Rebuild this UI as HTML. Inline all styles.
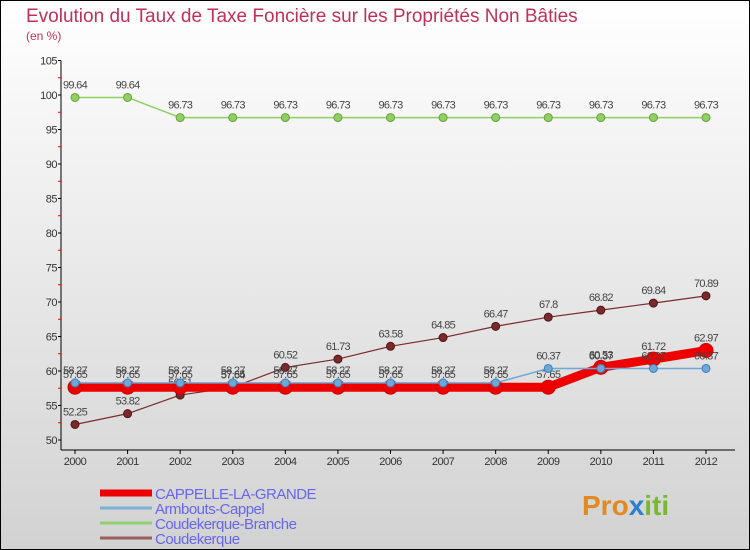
<!DOCTYPE html>
<html><head><meta charset="utf-8"><style>
body{margin:0;}
svg{display:block;font-family:"Liberation Sans",sans-serif;}
</style></head><body>
<svg id="chart" width="750" height="550">
<defs><linearGradient id="bg" x1="0" y1="0" x2="0" y2="1"><stop offset="0" stop-color="#ffffff"/><stop offset="1" stop-color="#d2d2d2"/></linearGradient></defs>
<rect x="0.5" y="0.5" width="749" height="549" fill="url(#bg)" stroke="#000"/>
<text x="26" y="22" font-size="19" fill="#c0305a">Evolution du Taux de Taxe Foncière sur les Propriétés Non Bâties</text>
<text x="26" y="40" font-size="12" fill="#c0305a">(en %)</text>
<g id="axes"></g>
<g id="series"></g>
<g id="legend"></g>
<text x="582" y="515" font-size="28" font-weight="bold" fill="#e08a20">Pro<tspan fill="#2a7fd0">x</tspan><tspan fill="#7ab830">iti</tspan></text>
</svg>
<script>
const years=[2000,2001,2002,2003,2004,2005,2006,2007,2008,2009,2010,2011,2012];
const yTicks=[50,55,60,65,70,75,80,85,90,95,100,105];
const seriesNames=["CAPPELLE-LA-GRANDE","Armbouts-Cappel","Coudekerque-Branche","Coudekerque"];
const capelle=[57.65,57.65,57.65,57.65,57.65,57.65,57.65,57.65,57.65,57.65,60.53,61.72,62.97];
const armbouts=[58.27,58.27,58.27,58.27,58.27,58.27,58.27,58.27,58.27,60.37,60.37,60.37,60.37];
const branche=[99.64,99.64,96.73,96.73,96.73,96.73,96.73,96.73,96.73,96.73,96.73,96.73,96.73];
const coudekerque=[52.25,53.82,56.51,57.64,60.52,61.73,63.58,64.85,66.47,67.8,68.82,69.84,70.89];
const NS="http://www.w3.org/2000/svg";
const xs=i=>75+i*(706-75)/(years.length-1);
const ys=v=>440-(v-50)*6.9;
function mk(tag,attrs,parent,text){const e=document.createElementNS(NS,tag);for(const k in attrs)e.setAttribute(k,attrs[k]);if(text!==undefined)e.textContent=text;parent.appendChild(e);return e;}
const axes=document.getElementById('axes');
let a=mk('line',{x1:61,y1:ys(105),x2:61,y2:450,stroke:'#000'},axes);


a=mk('line',{x1:61,y1:450,x2:735,y2:450,stroke:'#000'},axes);


yTicks.forEach(t=>{
 mk('line',{x1:58,y1:ys(t),x2:61,y2:ys(t),stroke:'#000'},axes);
 if(t<105)mk('line',{x1:58,y1:ys(t+2.5),x2:61,y2:ys(t+2.5),stroke:'#e00'},axes);
 const l=mk('text',{x:57,y:ys(t)+4,'font-size':11,fill:'#333','text-anchor':'end','letter-spacing':'-0.5'},axes,String(t));
 
 
});
years.forEach((y,i)=>{
 mk('line',{x1:xs(i),y1:450,x2:xs(i),y2:454,stroke:'#000'},axes);
 const l=mk('text',{x:xs(i),y:465,'font-size':11,fill:'#333','text-anchor':'middle','letter-spacing':'-0.5'},axes,String(y));
 
 
});
const sg=document.getElementById('series');
function draw(vals,color,w,r,name,dotStroke){
 const g=mk('g',{},sg);
 
 
 mk('polyline',{points:vals.map((v,i)=>xs(i)+','+ys(v)).join(' '),fill:'none',stroke:color,'stroke-width':w,'stroke-linejoin':'round'},g);
 vals.forEach((v,i)=>{
  const c=mk('circle',{cx:xs(i),cy:ys(v),r:r,fill:color,stroke:dotStroke,'stroke-width':1},g);
  
  
  mk('text',{x:xs(i),y:ys(v)-9,'font-size':11,fill:'#444','text-anchor':'middle','letter-spacing':'-0.7'},g,String(v));
 });
}
draw(branche,'#8fd060',1.5,4,'series-coudekerque-branche','#6aa040');
draw(coudekerque,'#7a2a2a',1.2,4,'series-coudekerque','#501515');
draw(capelle,'#ee0000',9,7,'series-cappelle-la-grande','#cc0000');
draw(armbouts,'#6fa8d6',1.5,4,'series-armbouts-cappel','#3a80c0');
const lg=document.getElementById('legend');
const colors=['#ee0000','#7fb0d6','#90d070','#9a6060'];
const widths=[7,3,3,3];
seriesNames.forEach((n,i)=>{
 const y=493+i*15;
 const g=mk('g',{},lg);
 
 
 mk('line',{x1:100,y1:y,x2:152,y2:y,stroke:colors[i],'stroke-width':widths[i]},g);
 mk('text',{x:155,y:y+6,'font-size':15,fill:'#6666ee','letter-spacing':'-0.5'},g,n);
});
</script>
</body></html>
